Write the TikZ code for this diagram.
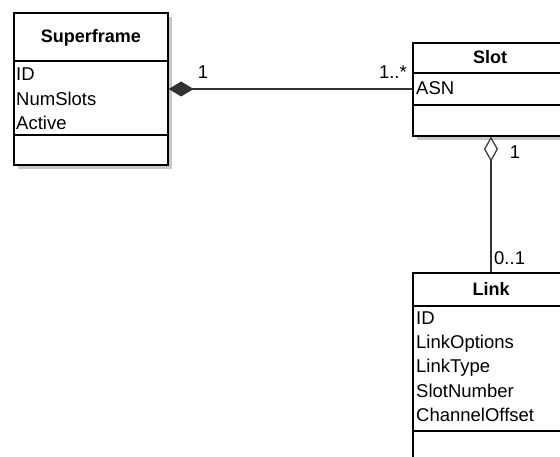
\documentclass[tikz,border=0pt]{standalone}
\usepackage{fontspec}
\setmainfont{Liberation Sans}
\usetikzlibrary{arrows.meta,shadows}
\begin{document}
\begin{tikzpicture}[x=1pt,y=-1pt,
  font=\fontsize{18.5}{22}\selectfont,
  classbox/.style={draw=black, line width=1.2pt, fill=white, inner sep=0pt,
    drop shadow={shadow xshift=4pt, shadow yshift=-4pt, fill=black!22, opacity=1}},
  divider/.style={draw=black, line width=1.2pt},
  title/.style={font=\fontsize{18}{22}\selectfont\bfseries, inner sep=0pt, anchor=base},
  attr/.style={anchor=base west, inner sep=0pt},
  mult/.style={inner sep=0pt, anchor=base},
  assoc/.style={draw=black!80, line width=1.2pt}
]
\clip (0,0) rectangle (560,457);
\fill[white] (0,0) rectangle (560,457);

% Superframe class
\node[classbox, minimum width=154pt, minimum height=152pt] (sf) at (91,89) {};
\draw[divider] (14,61) -- (168,61);
\draw[divider] (14,135) -- (168,135);
\node[title] (sft) at (91,42.7) {Superframe};
\node[attr] (sfa1) at (16,80.7) {ID};
\node[attr] (sfa2) at (16,105.3) {NumSlots};
\node[attr] (sfa3) at (16,130) {Active};

% Slot class
\node[classbox, minimum width=156pt, minimum height=93pt] (slot) at (491,89.5) {};
\draw[divider] (413,73) -- (569,73);
\draw[divider] (413,105) -- (569,105);
\node[title] (slott) at (490,64) {Slot};
\node[attr] (slota1) at (416,95) {ASN};

% Link class
\node[classbox, minimum width=156pt, minimum height=210pt] (link) at (491,378) {};
\draw[divider] (413,306) -- (569,306);
\draw[divider] (413,431) -- (569,431);
\node[title] (linkt) at (491,296) {Link};
\node[attr] (la1) at (416,324.3) {ID};
\node[attr] (la2) at (416,348.5) {LinkOptions};
\node[attr] (la3) at (416,372.8) {LinkType};
\node[attr] (la4) at (416,397) {SlotNumber};
\node[attr] (la5) at (416,421.5) {ChannelOffset};

% Composition: Superframe -- Slot
\draw[assoc, {Diamond[width=15pt,length=25pt]}-] (sf.east |- 0,89) -- (slot.west |- 0,89);
\node[mult] (m1) at (203,78.5) {1};
\node[mult, anchor=base east] (m2) at (407,79) {1..*};

% Aggregation: Slot -- Link
\draw[assoc, {Diamond[open,fill=white,width=14pt,length=25pt]}-] (slot.south) -- (link.north);
\node[mult] (m3) at (515,158.3) {1};
\node[mult, anchor=base west] (m4) at (494,265) {0..1};
\end{tikzpicture}
\end{document}
